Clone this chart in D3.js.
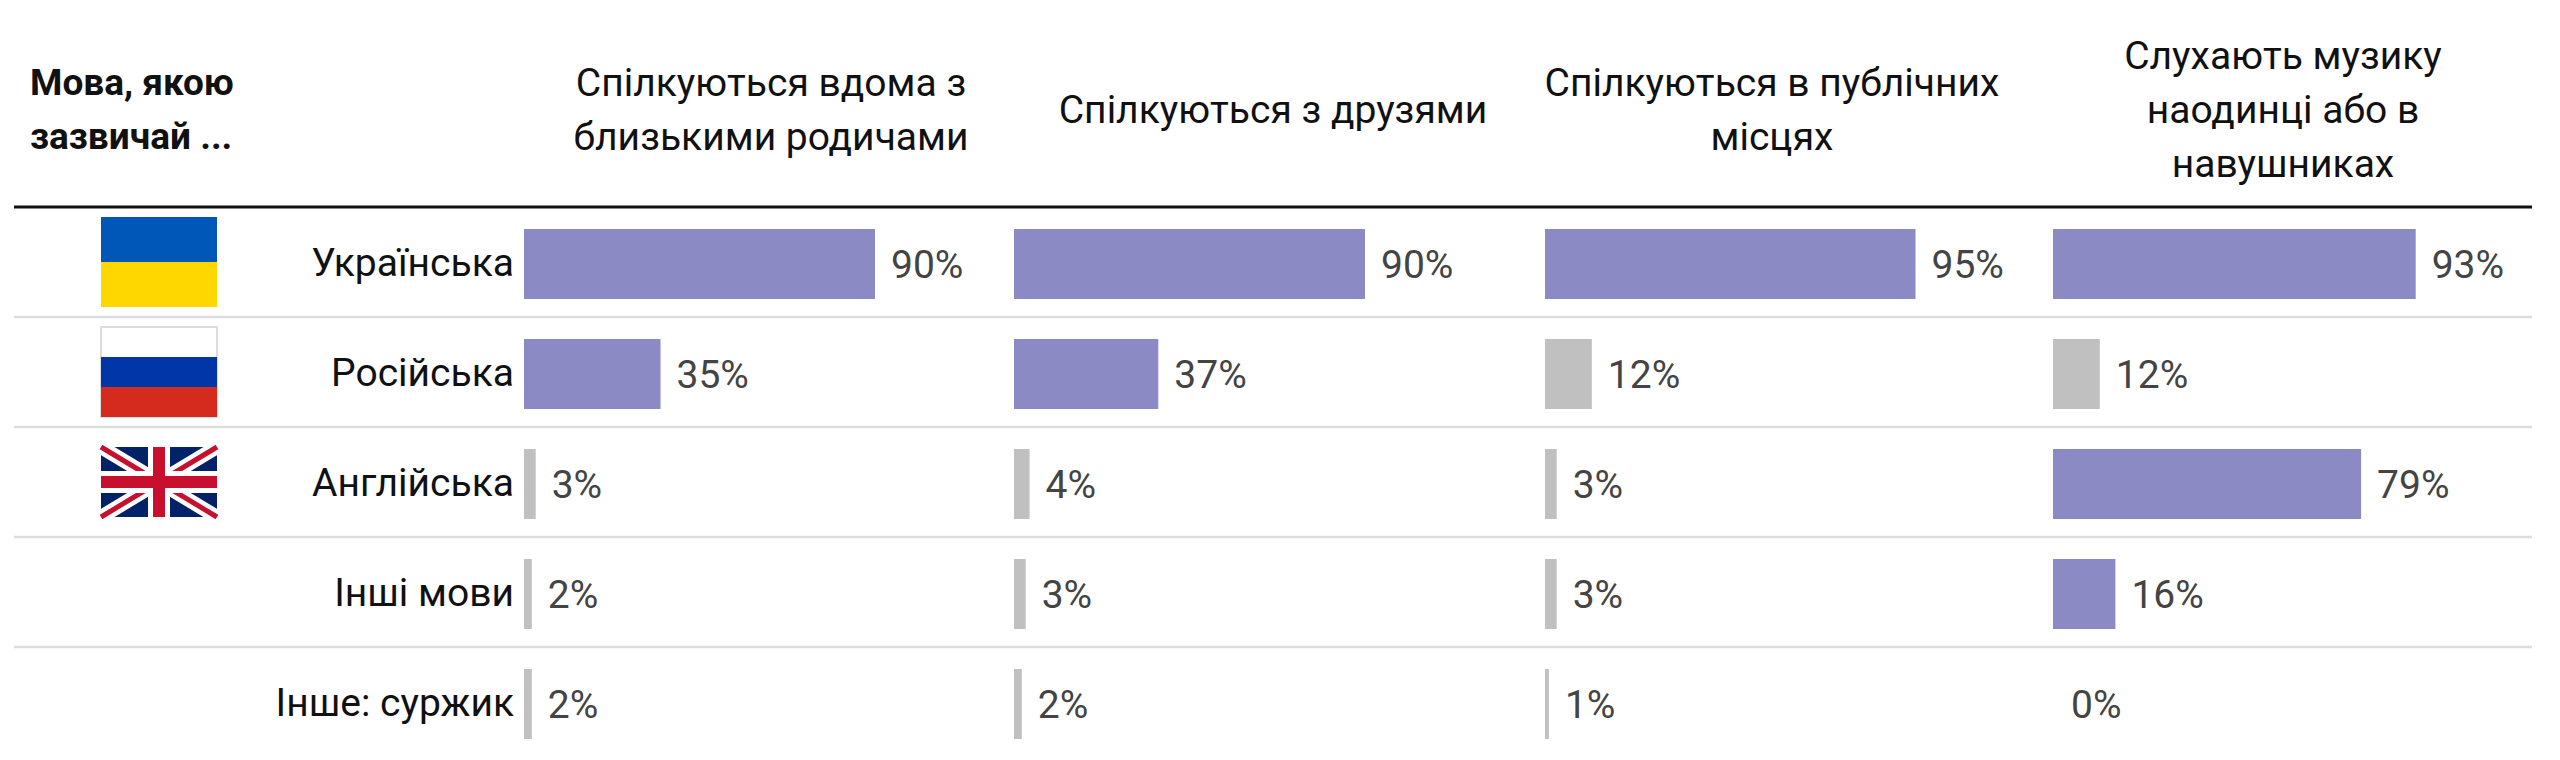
<!DOCTYPE html>
<html><head><meta charset="utf-8">
<script src="https://cdn.jsdelivr.net/npm/d3@7"></script>
<style>body{margin:0;background:#fff}svg{display:block}</style>
</head><body>
<script>
const languages = ["Українська","Російська","Англійська","Інші мови","Інше: суржик"];
const flags = ["ua","ru","uk",null,null];
const columnTitles = [
  ["Спілкуються вдома з","близькими родичами"],
  ["Спілкуються з друзями"],
  ["Спілкуються в публічних","місцях"],
  ["Слухають музику","наодинці або в","навушниках"]
];
const homeValues = [90,35,3,2,2];
const friendsValues = [90,37,4,3,2];
const publicValues = [95,12,3,3,1];
const musicValues = [93,12,79,16,0];
const series = [homeValues,friendsValues,publicValues,musicValues];

const W=2560,H=760;
const svg=d3.select("body").append("svg").attr("width",W).attr("height",H);
const font="Roboto, 'Noto Sans', sans-serif";
const colStarts=[524,1014,1545,2053];
const x=d3.scaleLinear().domain([0,100]).range([0,390]);
const y=d3.scaleBand().domain(languages).range([207,757]);
const barH=70;

// header
svg.append("g").selectAll("text").data(["Мова, якою","зазвичай ..."]).join("text")
  .attr("x",30).attr("y",(d,i)=>95+i*54).text(d=>d)
  .attr("font-family",font).attr("font-weight",700).attr("font-size",37).attr("fill","#111");
const centers=[771,1273,1772,2283];
columnTitles.forEach((lines,c)=>{
  const n=lines.length, mid=123;
  svg.append("g").selectAll("text").data(lines).join("text")
    .attr("x",centers[c]).attr("y",(d,i)=>mid+(i-(n-1)/2)*54).attr("text-anchor","middle")
    .attr("font-family",font).attr("font-size",39).attr("fill","#111").text(d=>d);
});
svg.append("line").attr("x1",14).attr("x2",2532).attr("y1",207).attr("y2",207).attr("stroke","#111").attr("stroke-width",3);
languages.slice(1).forEach(l=>{
  svg.append("line").attr("x1",14).attr("x2",2532).attr("y1",y(l)).attr("y2",y(l)).attr("stroke","#ddd").attr("stroke-width",2.5);
});

// row labels
svg.append("g").selectAll("text").data(languages).join("text")
  .attr("x",514).attr("y",d=>y(d)+y.bandwidth()/2).attr("dy","0.35em").attr("text-anchor","end")
  .attr("font-family",font).attr("font-size",39).attr("fill","#111").text(d=>d);

// flags
const fx=101,fw=116,fh=90;
flags.forEach((f,i)=>{
  if(!f)return;
  const g=svg.append("g").attr("transform",`translate(${fx},${y(languages[i])+y.bandwidth()/2-fh/2})`);
  if(f==="ua"){
    g.append("rect").attr("width",fw).attr("height",fh/2).attr("fill","#0057b7");
    g.append("rect").attr("y",fh/2).attr("width",fw).attr("height",fh/2).attr("fill","#ffd700");
  } else if(f==="ru"){
    g.append("rect").attr("width",fw).attr("height",fh).attr("fill","#fff").attr("stroke","#ddd").attr("stroke-width",2);
    g.append("rect").attr("y",fh/3).attr("width",fw).attr("height",fh/3).attr("fill","#0036a7");
    g.append("rect").attr("y",2*fh/3).attr("width",fw).attr("height",fh/3).attr("fill","#d52b1e");
  } else {
    const h=70, gg=g.attr("transform",`translate(${fx},${y(languages[i])+y.bandwidth()/2-h/2})`);
    gg.append("rect").attr("width",fw).attr("height",h).attr("fill","#012169");
    gg.append("path").attr("d",`M0,0L${fw},${h}M${fw},0L0,${h}`).attr("stroke","#fff").attr("stroke-width",14);
    gg.append("path").attr("d",`M0,0L${fw},${h}M${fw},0L0,${h}`).attr("stroke","#c8102e").attr("stroke-width",5);
    gg.append("path").attr("d",`M${fw/2},0V${h}M0,${h/2}H${fw}`).attr("stroke","#fff").attr("stroke-width",22);
    gg.append("path").attr("d",`M${fw/2},0V${h}M0,${h/2}H${fw}`).attr("stroke","#c8102e").attr("stroke-width",12);
  }
});

// bars
series.forEach((vals,c)=>{
  const g=svg.append("g").attr("transform",`translate(${colStarts[c]},0)`);
  g.selectAll("rect").data(vals).join("rect")
    .attr("x",0).attr("y",(d,i)=>y(languages[i])+y.bandwidth()/2-barH/2+2)
    .attr("width",d=>x(d)).attr("height",barH)
    .attr("fill",d=>d>=15?"#8c8ac4":"#c0c0c0");
  g.selectAll("text").data(vals).join("text")
    .attr("x",d=>x(d)+(d===0?18:16)).attr("y",(d,i)=>y(languages[i])+y.bandwidth()/2+2).attr("dy","0.35em")
    .attr("font-family",font).attr("font-size",39).attr("fill","#444").text(d=>d+"%");
});
</script>
</body></html>
